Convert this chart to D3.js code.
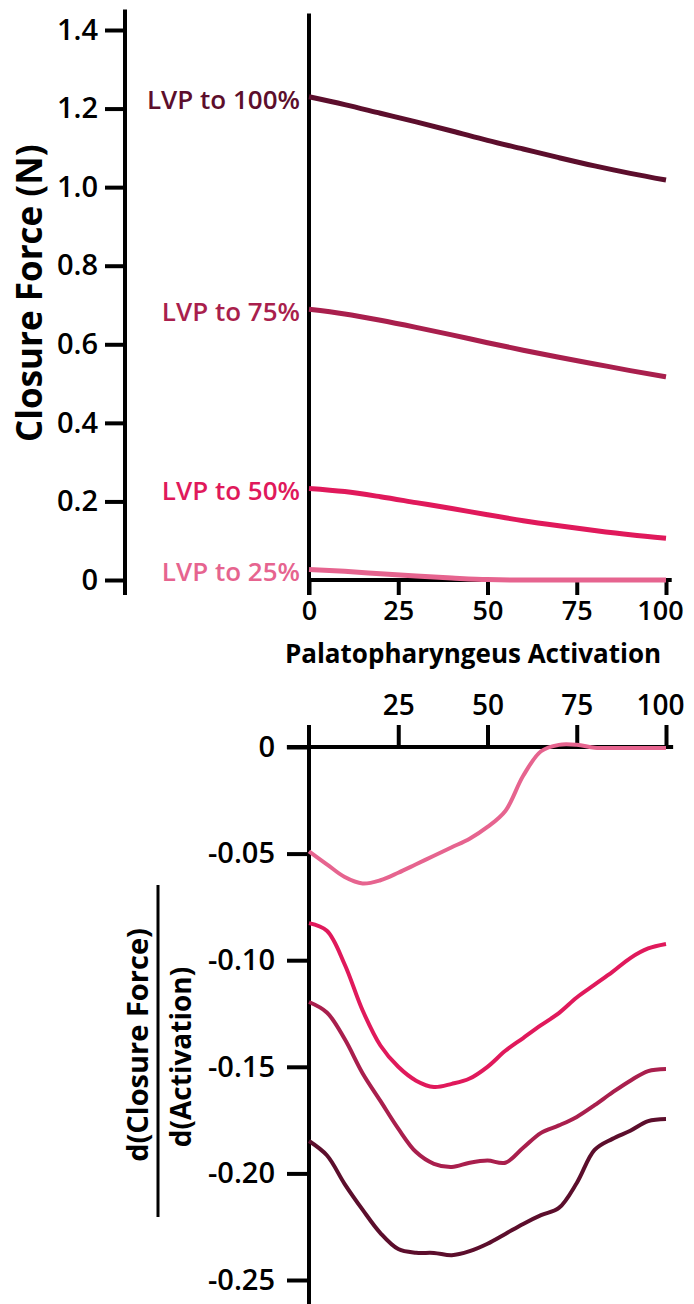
<!DOCTYPE html>
<html>
<head>
<meta charset="utf-8">
<script src="https://cdn.jsdelivr.net/npm/d3@7"></script>
<style>
  html, body { margin: 0; padding: 0; background: #fff; }
  svg { display: block; font-family: "Open Sans", sans-serif; font-weight: 600; }
</style>
</head>
<body>
<svg id="chart" width="694" height="1304"></svg>
<script>
// Closure force (N) versus palatopharyngeus activation (%)
const activation = [0, 10, 20, 30, 40, 50, 60, 70, 80, 90, 100];
const force100 = [1.230, 1.210, 1.188, 1.166, 1.143, 1.119, 1.097, 1.075, 1.054, 1.035, 1.018];
const force75  = [0.689, 0.677, 0.661, 0.643, 0.624, 0.604, 0.585, 0.567, 0.550, 0.533, 0.517];
const force50  = [0.233, 0.225, 0.212, 0.197, 0.182, 0.166, 0.151, 0.138, 0.126, 0.115, 0.106];
const force25  = [0.027, 0.022, 0.016, 0.010, 0.005, 0.001, 0, 0, 0, 0, 0];

// Slope of closure force with respect to activation
const derivActivation = [0, 5, 10, 15, 20, 25, 30, 35, 40, 45, 50, 55, 60, 65, 70, 75, 80, 85, 90, 95, 100];
const deriv100 = [-0.1848, -0.1915, -0.205, -0.217, -0.228, -0.2355, -0.2372, -0.2373, -0.2384, -0.2365, -0.233, -0.2284, -0.2237, -0.2196, -0.2162, -0.2045, -0.189, -0.1838, -0.180, -0.1755, -0.1745];
const deriv75  = [-0.1196, -0.1245, -0.137, -0.153, -0.166, -0.179, -0.190, -0.1955, -0.197, -0.195, -0.194, -0.195, -0.188, -0.181, -0.1775, -0.1735, -0.168, -0.162, -0.1565, -0.152, -0.151];
const deriv50  = [-0.0826, -0.0862, -0.102, -0.1235, -0.140, -0.150, -0.1565, -0.1595, -0.158, -0.1555, -0.150, -0.1425, -0.1365, -0.1305, -0.1248, -0.1175, -0.1115, -0.1055, -0.099, -0.0945, -0.0924];
const deriv25  = [-0.049, -0.055, -0.061, -0.064, -0.0625, -0.059, -0.055, -0.051, -0.047, -0.043, -0.0375, -0.030, -0.0135, -0.002, 0.001, 0.001, -0.0003, -0.0005, -0.0005, -0.0005, -0.0005];

const seriesLabels = ["LVP to 100%", "LVP to 75%", "LVP to 50%", "LVP to 25%"];
const forceTicks = [0, 0.2, 0.4, 0.6, 0.8, 1.0, 1.2, 1.4];
const activationTicks = [0, 25, 50, 75, 100];
const derivActivationTicks = [25, 50, 75, 100];
const derivTicks = [0, -0.05, -0.10, -0.15, -0.20, -0.25];

const seriesColors = ["#5c0e2c", "#a91f4d", "#e0195b", "#e6648f"];

const forceSeries = [force100, force75, force50, force25];
const derivSeries = [deriv100, deriv75, deriv50, deriv25];

const svg = d3.select("#chart");
const loc = d3.formatLocale({ decimal: ".", thousands: ",", grouping: [3], currency: ["", ""], minus: "-" });
const fmt1 = loc.format(".1f"), fmt2 = loc.format(".2f");

// ---------- Upper panel ----------
const xTop = d3.scaleLinear().domain([0, 100]).range([309, 666]);
const yTop = d3.scaleLinear().domain([0, 1.4]).range([580, 30]);

function styleAxis(g, size) {
  g.select(".domain").remove();
  g.selectAll(".tick line").attr("stroke", "#000").attr("stroke-width", 4);
  g.selectAll(".tick text").attr("fill", "#000").attr("font-size", size)
    .attr("font-family", "'Open Sans', sans-serif").attr("font-weight", 600);
}

// detached force axis
const leftX = 125;
svg.append("g")
  .attr("transform", `translate(${leftX},0)`)
  .call(d3.axisLeft(yTop).tickValues(forceTicks).tickSize(20).tickPadding(7)
    .tickFormat(d => d === 0 ? "0" : fmt1(d)))
  .call(g => styleAxis(g, 29));
svg.append("line")
  .attr("x1", leftX).attr("x2", leftX)
  .attr("y1", yTop(1.452)).attr("y2", yTop(-0.038))
  .attr("stroke", "#000").attr("stroke-width", 4);

// plot frame: vertical at activation 0 and horizontal at force 0
svg.append("line")
  .attr("x1", xTop(0)).attr("x2", xTop(0))
  .attr("y1", yTop(1.442)).attr("y2", yTop(-0.038))
  .attr("stroke", "#000").attr("stroke-width", 4);
const xAxisTop = svg.append("g")
  .attr("transform", `translate(0,${yTop(0)})`)
  .call(d3.axisBottom(xTop).tickValues(activationTicks).tickSize(15).tickPadding(6))
  .call(g => styleAxis(g, 27));
xAxisTop.selectAll(".tick text").attr("y", 40).attr("dy", 0)
  .attr("dx", d => d === 100 ? -6 : 0);
svg.append("line")
  .attr("x1", xTop(0)).attr("x2", xTop(101.6))
  .attr("y1", yTop(0)).attr("y2", yTop(0))
  .attr("stroke", "#000").attr("stroke-width", 4);

const lineTop = d3.line()
  .x((d, i) => xTop(activation[i]))
  .y(d => yTop(d))
  .curve(d3.curveMonotoneX);

forceSeries.forEach((s, k) => {
  svg.append("path")
    .attr("d", lineTop(s))
    .attr("fill", "none")
    .attr("stroke", seriesColors[k])
    .attr("stroke-width", 5);
  svg.append("text")
    .attr("x", 300).attr("y", yTop(s[0]) + 2)
    .attr("text-anchor", "end")
    .attr("dominant-baseline", "central")
    .attr("font-size", 26)
    .attr("fill", seriesColors[k])
    .text(seriesLabels[k]);
});

svg.append("text")
  .attr("transform", `translate(42,${yTop(0.73)}) rotate(-90)`)
  .attr("text-anchor", "middle")
  .attr("font-size", 35)
  .attr("font-weight", 700)
  .text("Closure Force (N)");

svg.append("text")
  .attr("x", 473).attr("y", 663)
  .attr("text-anchor", "middle")
  .attr("font-size", 26)
  .attr("font-weight", 700)
  .text("Palatopharyngeus Activation");

// ---------- Lower panel ----------
const xBot = d3.scaleLinear().domain([0, 100]).range([309, 666]);
const yBot = d3.scaleLinear().domain([-0.25, 0]).range([1280, 747]);

svg.append("g")
  .attr("transform", `translate(${xBot(0)},0)`)
  .call(d3.axisLeft(yBot).tickValues(derivTicks).tickSize(22).tickPadding(12)
    .tickFormat(d => d === 0 ? "0" : fmt2(d)))
  .call(g => styleAxis(g, 29));
svg.append("line")
  .attr("x1", xBot(0)).attr("x2", xBot(0))
  .attr("y1", yBot(0.0103)).attr("y2", yBot(-0.275))
  .attr("stroke", "#000").attr("stroke-width", 4);

const xAxisBot = svg.append("g")
  .attr("transform", `translate(0,${yBot(0)})`)
  .call(d3.axisTop(xBot).tickValues(derivActivationTicks).tickSize(22).tickPadding(6))
  .call(g => styleAxis(g, 28));
xAxisBot.selectAll(".tick text").attr("y", -32).attr("dy", 0)
  .attr("dx", d => d === 100 ? -6 : 0);
svg.append("line")
  .attr("x1", xBot(-6.2)).attr("x2", xBot(102))
  .attr("y1", yBot(0)).attr("y2", yBot(0))
  .attr("stroke", "#000").attr("stroke-width", 4);

const lineBot = d3.line()
  .x((d, i) => xBot(derivActivation[i]))
  .y(d => yBot(d))
  .curve(d3.curveCatmullRom.alpha(0.5));

derivSeries.forEach((s, k) => {
  svg.append("path")
    .attr("d", lineBot(s))
    .attr("fill", "none")
    .attr("stroke", seriesColors[k])
    .attr("stroke-width", 4);
});

// stacked fraction title
const midY = 1051;
svg.append("text")
  .attr("transform", `translate(148,${midY - 6}) rotate(-90)`)
  .attr("text-anchor", "middle")
  .attr("font-size", 29)
  .attr("font-weight", 700)
  .text("d(Closure Force)");
svg.append("line")
  .attr("x1", 158).attr("x2", 158)
  .attr("y1", 885).attr("y2", 1217)
  .attr("stroke", "#000").attr("stroke-width", 3);
svg.append("text")
  .attr("transform", `translate(191,${midY + 6}) rotate(-90)`)
  .attr("text-anchor", "middle")
  .attr("font-size", 28)
  .attr("font-weight", 700)
  .text("d(Activation)");
</script>
</body>
</html>
